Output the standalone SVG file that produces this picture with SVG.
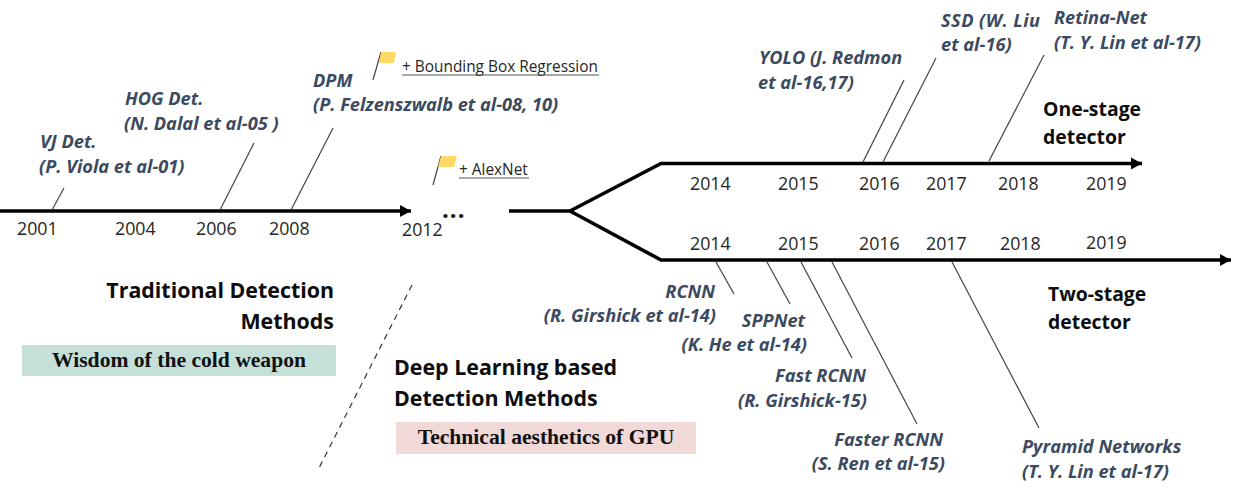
<svg xmlns="http://www.w3.org/2000/svg" width="1233" height="496" viewBox="0 0 1233 496">
<defs>
<style>
text{font-family:"Open Sans","Noto Sans","Liberation Sans",sans-serif}
.yr{font-size:17.8px;fill:#262626}
.ref{font-size:18.2px;font-style:italic;font-weight:700;fill:#3b4a60}
.hd{font-size:21.4px;font-weight:700;fill:#0d0d0d}
.sd{font-size:19.4px;font-weight:700;fill:#0d0d0d}
.ser{font-family:"Liberation Serif",serif;font-size:21.6px;font-weight:700;fill:#111}
.note{font-size:15.4px;fill:#262626}
.ax{stroke:#000;stroke-width:3.6;fill:none}
.ld{stroke:#444;stroke-width:1.2;fill:none}
.flag{fill:#ffd966}
</style>
<marker id="ah" markerUnits="userSpaceOnUse" markerWidth="12" markerHeight="14" refX="11" refY="7" orient="auto"><path d="M0 1L11 7L0 13z" fill="#000"/></marker>
</defs>
<g id="connectors">
<path class="ax" d="M0 211H411" marker-end="url(#ah)"/>
<path class="ax" d="M509 211H570"/>
<path class="ax" d="M570 211L661 163.5H1142" marker-end="url(#ah)"/>
<path class="ax" d="M570 211L661 260H1231" marker-end="url(#ah)"/>
<path class="ld" d="M52 210L64 188"/>
<path class="ld" d="M220 210L254 143"/>
<path class="ld" d="M291 210L333 128"/>
<path class="ld" d="M863 162L904 80"/>
<path class="ld" d="M883 162L936 58"/>
<path class="ld" d="M989 161L1044 55"/>
<path class="ld" d="M716 262L734 294"/>
<path class="ld" d="M767 262L790 304"/>
<path class="ld" d="M801 262L852 358"/>
<path class="ld" d="M832 262L917 424"/>
<path class="ld" d="M952 262L1039 428"/>
<path d="M412 285L319 468" stroke="#333" stroke-width="1.2" stroke-dasharray="6 5" fill="none"/>
</g>
<g id="years-main">
<text class="yr" x="17" y="235">2001</text><text class="yr" x="115" y="235">2004</text><text class="yr" x="196" y="235">2006</text><text class="yr" x="269" y="235">2008</text><text class="yr" x="402" y="236">2012</text>
<text x="442" y="218" font-size="24" font-weight="700" fill="#111" letter-spacing="1">...</text>
</g>
<g id="years-one">
<text class="yr" x="690" y="190">2014</text><text class="yr" x="778" y="190">2015</text><text class="yr" x="859" y="190">2016</text><text class="yr" x="926" y="190">2017</text><text class="yr" x="998" y="190">2018</text><text class="yr" x="1086" y="190">2019</text>
</g>
<g id="years-two">
<text class="yr" x="690" y="250">2014</text><text class="yr" x="778" y="250">2015</text><text class="yr" x="859" y="250">2016</text><text class="yr" x="926" y="250">2017</text><text class="yr" x="1000" y="250">2018</text><text class="yr" x="1086" y="249">2019</text>
</g>
<g id="vj"><text class="ref" x="40" y="148">VJ Det.</text><text class="ref" x="39" y="173">(P. Viola et al-01)</text></g>
<g id="hog"><text class="ref" x="125" y="105">HOG Det.</text><text class="ref" x="124" y="130">(N. Dalal et al-05 )</text></g>
<g id="dpm"><text class="ref" x="313" y="87">DPM</text><text class="ref" x="313" y="111">(P. Felzenszwalb et al-08, 10)</text></g>
<g id="bbox-note">
<path class="ld" d="M373 80L381 52"/><path class="flag" d="M381 52H396L394 63H379z"/>
<text class="note" x="402" y="72">+ Bounding Box Regression</text><path d="M402 75H599" stroke="#555" stroke-width="1"/>
</g>
<g id="alexnet-note">
<path class="ld" d="M433 185L441 156"/><path class="flag" d="M441 156H457L454 167H438z"/>
<text class="note" x="459" y="175">+ AlexNet</text><path d="M459 178H529" stroke="#555" stroke-width="1"/>
</g>
<g id="yolo"><text class="ref" x="759" y="64">YOLO (J. Redmon</text><text class="ref" x="758" y="89">et al-16,17)</text></g>
<g id="ssd"><text class="ref" x="941" y="27" textLength="99">SSD (W. Liu</text><text class="ref" x="941" y="51">et al-16)</text></g>
<g id="retina"><text class="ref" x="1054" y="24">Retina-Net</text><text class="ref" x="1054" y="49">(T. Y. Lin et al-17)</text></g>
<g id="one-stage"><text class="sd" x="1043" y="116">One-stage</text><text class="sd" x="1043" y="144">detector</text></g>
<g id="two-stage"><text class="sd" x="1048" y="301">Two-stage</text><text class="sd" x="1048" y="329">detector</text></g>
<g id="rcnn"><text class="ref" x="715" y="298" text-anchor="end">RCNN</text><text class="ref" x="716" y="322" text-anchor="end">(R. Girshick et al-14)</text></g>
<g id="sppnet"><text class="ref" x="805" y="327" text-anchor="end">SPPNet</text><text class="ref" x="807" y="351" text-anchor="end">(K. He et al-14)</text></g>
<g id="fast"><text class="ref" x="866" y="382" text-anchor="end">Fast RCNN</text><text class="ref" x="867" y="407" text-anchor="end">(R. Girshick-15)</text></g>
<g id="faster"><text class="ref" x="943" y="446" text-anchor="end">Faster RCNN</text><text class="ref" x="945" y="470" text-anchor="end">(S. Ren et al-15)</text></g>
<g id="fpn"><text class="ref" x="1022" y="453">Pyramid Networks</text><text class="ref" x="1022" y="478">(T. Y. Lin et al-17)</text></g>
<g id="traditional">
<text class="hd" x="334" y="298" text-anchor="end">Traditional Detection</text><text class="hd" x="334" y="329" text-anchor="end">Methods</text>
<rect x="22" y="345" width="314" height="31" fill="#c5e0d9"/><text class="ser" x="179" y="367" text-anchor="middle">Wisdom of the cold weapon</text>
</g>
<g id="deep">
<text class="hd" x="394" y="375">Deep Learning based</text><text class="hd" x="394" y="406">Detection Methods</text>
<rect x="396" y="422" width="300" height="32" fill="#f1d9d8"/><text class="ser" x="546" y="444" text-anchor="middle">Technical aesthetics of GPU</text>
</g>
</svg>
